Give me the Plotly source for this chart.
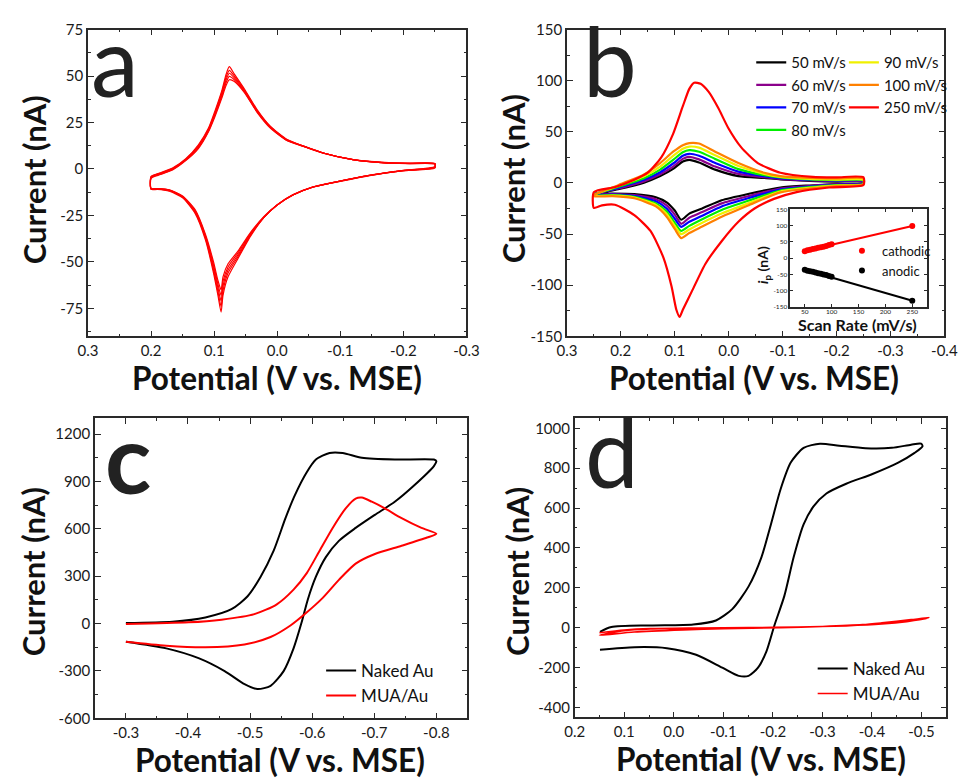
import plotly.graph_objects as go

# ---------------- Panel a : repeated cycles ----------------
a_pot_fwd = [0.2, 0.185, 0.166, 0.145, 0.125, 0.109, 0.099, 0.088, 0.081, 0.076, 0.068,
             0.052, 0.032, 0.011, -0.015, -0.044, -0.073, -0.12, -0.17, -0.21, -0.25]
a_cur_fwd = [
    [-4, -2, 0.5, 5.5, 13, 22, 31, 42, 51, 55, 51, 43, 32, 23, 16, 12, 8.6, 5, 3.5, 3.1, 3],
    [-4.2, -2.2, 0.3, 5.3, 12.5, 21.5, 30, 41, 49.5, 53, 50, 42.5, 31.5, 22.8, 15.8, 12, 8.6, 5, 3.4, 3, 2.9],
    [-4.5, -2.5, 0, 5, 12, 21, 29.5, 40, 48, 51.5, 49, 42, 31, 22.6, 15.6, 12, 8.6, 5, 3.3, 3, 2.8],
    [-4.8, -2.8, -0.2, 4.8, 11.5, 20.5, 28.8, 39, 46.5, 49.8, 48, 41.5, 30.8, 22.3, 15.5, 11.9, 8.5, 5, 3.3, 2.9, 2.7],
    [-5, -3, -0.5, 4.5, 11, 20, 28, 38, 45, 48, 47, 41, 30.5, 22, 15.3, 11.8, 8.5, 5, 3.3, 2.9, 2.6],
]
a_pot_rev = [-0.25, -0.197, -0.144, -0.092, -0.056, -0.025, 0.0, 0.021, 0.042, 0.062, 0.078,
             0.086, 0.089, 0.094, 0.101, 0.114, 0.13, 0.15, 0.171, 0.19, 0.2]
a_cur_rev = [
    [0.5, -1, -3.7, -7.2, -9.8, -14, -19.4, -26, -36, -48, -58, -68, -77, -68, -56, -38, -24, -15.5, -12, -11, -11],
    [0.7, -1, -3.6, -7.1, -9.8, -14, -19.4, -26, -35.5, -47, -56, -65.5, -74, -66, -54.5, -37, -23.5, -15.2, -11.7, -10.8, -10.8],
    [1, -1, -3.6, -7.1, -9.8, -14, -19.4, -26, -35, -46, -54.4, -63, -71, -64, -53, -36.5, -23, -15, -11.5, -10.7, -10.7],
    [1.1, -0.95, -3.55, -7.05, -9.75, -13.9, -19.3, -25.8, -34.5, -45, -52.7, -60.5, -68, -62, -51.5, -35.7, -22.5, -14.8, -11.3, -10.6, -10.6],
    [1.2, -0.9, -3.5, -7, -9.7, -13.8, -19.2, -25.5, -34, -44, -51, -58, -65, -60, -50, -35, -22, -14.5, -11.2, -10.5, -10.5],
]

# ---------------- Panel b : scan-rate series ----------------
b_rates = ["50 mV/s", "60 mV/s", "70 mV/s", "80 mV/s", "90 mV/s", "100 mV/s"]
b_colors = ["#000000", "#8B008B", "#0000FF", "#00EE00", "#F0F000", "#FF8000"]
b_pot_fwd = [0.25, 0.205, 0.157, 0.127, 0.103, 0.085, 0.073, 0.055, 0.025, -0.018, -0.066, -0.096, -0.15, -0.2, -0.25]
b_cur_fwd = [
    [-10.8, -6, 0.3, 6.7, 13.7, 21, 22.6, 20, 13, 6.7, 4.8, 3.5, 2, 1.3, 1],
    [-11, -5.5, 1.5, 8.5, 16, 23.5, 25.5, 23, 16, 8.8, 5.6, 4, 2.5, 1.8, 1.5],
    [-11.2, -4.8, 3, 10.5, 19, 26.5, 28.5, 26.5, 19.5, 11, 6.6, 4.6, 3, 2.3, 2],
    [-11.5, -4, 4.5, 13, 22.5, 30, 32, 30.5, 23.5, 13.5, 7.6, 5.3, 3.5, 2.8, 2.5],
    [-11.8, -3, 6.5, 16, 26.5, 33.5, 35.5, 34.5, 27, 16.5, 8.8, 6, 4, 3.3, 3],
    [-12, -2.2, 8.3, 19.4, 30.5, 36.9, 39, 38.5, 30.5, 19.4, 9.9, 6.7, 5, 4.5, 4.3],
]
b_pot_rev = [-0.25, -0.2, -0.15, -0.096, -0.036, 0.013, 0.049, 0.073, 0.088, 0.1, 0.115, 0.135, 0.175, 0.215, 0.25]
b_cur_rev = [
    [-0.5, -1.2, -2.5, -4.5, -10.8, -17, -25, -30, -36, -27, -19, -14, -11, -10.5, -10.8],
    [-0.7, -1.5, -3, -5.5, -13, -20, -28.5, -34, -40, -31, -22, -16, -12, -11, -11.2],
    [-0.9, -1.8, -3.5, -6.5, -15, -23, -32, -38, -43, -35, -25, -18, -12.8, -11.5, -11.6],
    [-1.1, -2.2, -4.2, -7.5, -17.5, -26.5, -35.5, -42, -47, -39, -28, -20, -13.6, -12, -12.2],
    [-1.3, -2.6, -4.8, -8.4, -20, -30, -39, -45.5, -50, -42, -30.5, -21.5, -14.3, -12.5, -12.6],
    [-1.5, -3, -5.5, -9.2, -22, -33, -42.6, -49, -54, -45, -33, -23, -15, -13, -13],
]
b250_pot_fwd = [0.25, 0.21, 0.175, 0.15, 0.125, 0.103, 0.085, 0.073, 0.064, 0.052, 0.037, 0.019,
                0.001, -0.023, -0.054, -0.096, -0.156, -0.2, -0.25]
b250_cur_fwd = [-9, -4, 3, 10, 25, 48, 75, 92, 98, 97, 89, 73, 54, 35, 19.4, 10, 6, 5.5, 5.5]
b250_pot_rev = [-0.25, -0.186, -0.126, -0.084, -0.048, -0.018, 0.013, 0.043, 0.067, 0.085, 0.091,
                0.097, 0.106, 0.121, 0.145, 0.175, 0.211, 0.235, 0.25]
b250_cur_rev = [-2, -4.5, -9, -15.6, -25, -38, -57, -79, -104.6, -124, -131, -124, -101, -73, -47,
                -31.5, -21.3, -22, -24.5]

# inset: peak current vs scan rate
ins_rates = [50, 55, 60, 65, 70, 75, 80, 85, 90, 95, 100, 250]
ins_cath = [21.5, 24, 25.5, 28, 29.5, 32, 33.5, 35, 37.5, 40, 42.5, 99]
ins_anod = [-36, -38.5, -40, -42, -44, -46.5, -48, -50.5, -52, -55, -57, -131]
fit_rates = [48, 252]
fit_cath = [21, 99.5]
fit_anod = [-35, -131.5]

# ---------------- Panel c ----------------
c_naked_pot = [-0.3, -0.375, -0.428, -0.47, -0.496, -0.517, -0.538, -0.557, -0.572, -0.591, -0.606,
               -0.628, -0.649, -0.68, -0.733, -0.796, -0.8,
               -0.796, -0.764, -0.733, -0.701, -0.67, -0.643, -0.622, -0.606, -0.593, -0.583,
               -0.57, -0.554, -0.533, -0.512, -0.491, -0.459, -0.417, -0.365, -0.3]
c_naked_cur = [4, 12, 39, 91, 173, 297, 462, 668, 812, 957, 1039, 1081, 1081, 1050, 1039, 1039, 1029,
               998, 875, 772, 689, 606, 524, 421, 297, 153, 8,
               -157, -301, -394, -415, -384, -301, -219, -157, -115]
c_mua_pot = [-0.3, -0.401, -0.454, -0.507, -0.543, -0.57, -0.591, -0.612, -0.633, -0.654, -0.67,
             -0.68, -0.696, -0.717, -0.744, -0.776, -0.8,
             -0.785, -0.744, -0.701, -0.67, -0.643, -0.617, -0.591, -0.565, -0.533, -0.491,
             -0.428, -0.365, -0.3]
c_mua_cur = [-2, 8, 25, 60, 122, 215, 318, 462, 606, 730, 792, 798, 772, 730, 668, 606, 569,
             545, 493, 441, 380, 277, 163, 70, -12, -85, -132, -150, -140, -115]

# ---------------- Panel d ----------------
d_naked_pot = [0.149, 0.126, 0.047, -0.039, -0.085, -0.118, -0.151, -0.177, -0.196, -0.216, -0.236,
               -0.262, -0.295, -0.334, -0.387, -0.44, -0.479, -0.499, -0.502,
               -0.486, -0.453, -0.401, -0.348, -0.308, -0.282, -0.262, -0.242, -0.223, -0.203,
               -0.187, -0.17, -0.151, -0.131, -0.098, -0.045, 0.014, 0.079, 0.149]
d_naked_cur = [-21, 3, 11, 16, 36, 93, 207, 354, 518, 698, 828, 902, 923, 913, 900, 902, 918, 923, 910,
               877, 828, 771, 722, 673, 608, 518, 354, 158, 11,
               -119, -201, -242, -242, -201, -136, -103, -98, -111]
d_mua_pot = [0.15, 0.1, 0.047, -0.05, -0.151, -0.25, -0.348, -0.42, -0.47, -0.515,
             -0.479, -0.42, -0.381, -0.3, -0.216, -0.1, -0.019, 0.08, 0.15,
             0.1, 0.047, -0.05, -0.151, -0.25, -0.348, -0.42, -0.47, -0.51]
d_mua_cur = [-26, -12, -5, -2, 0, 3, 10, 20, 32, 50,
             40, 24, 15, 6, 0, -5, -11, -22, -38,
             -15, -7, -3, -0.5, 2.5, 9, 18, 30, 46]

# ---------------- tick values ----------------
a_xticks = [0.3, 0.2, 0.1, 0.0, -0.1, -0.2, -0.3]
a_yticks = [75, 50, 25, 0, -25, -50, -75]
b_xticks = [0.3, 0.2, 0.1, 0.0, -0.1, -0.2, -0.3, -0.4]
b_yticks = [150, 100, 50, 0, -50, -100, -150]
ins_xticks = [50, 100, 150, 200, 250]
ins_yticks = [150, 100, 50, 0, -50, -100, -150]
c_xticks = [-0.3, -0.4, -0.5, -0.6, -0.7, -0.8]
c_yticks = [1200, 900, 600, 300, 0, -300, -600]
d_xticks = [0.2, 0.1, 0.0, -0.1, -0.2, -0.3, -0.4, -0.5]
d_yticks = [1000, 800, 600, 400, 200, 0, -200, -400]

FONT = "Lato"
AX = "#2a2a2a"
fig = go.Figure()

# panel a
for k in range(len(a_cur_fwd)):
    fig.add_trace(go.Scatter(x=a_pot_fwd + a_pot_rev + [a_pot_fwd[0]],
                             y=a_cur_fwd[k] + a_cur_rev[k] + [a_cur_fwd[k][0]],
                             mode="lines", line=dict(color="#FF0000", width=1.2, shape="spline", smoothing=0.6),
                             showlegend=False, xaxis="x", yaxis="y"))

# panel b
for k in range(len(b_rates)):
    fig.add_trace(go.Scatter(x=b_pot_fwd + b_pot_rev + [b_pot_fwd[0]],
                             y=b_cur_fwd[k] + b_cur_rev[k] + [b_cur_fwd[k][0]],
                             mode="lines", name=b_rates[k],
                             line=dict(color=b_colors[k], width=2.2, shape="spline", smoothing=0.6),
                             legend="legend" if k < 4 else "legend5", xaxis="x2", yaxis="y2"))
fig.add_trace(go.Scatter(x=b250_pot_fwd + b250_pot_rev + [b250_pot_fwd[0]],
                         y=b250_cur_fwd + b250_cur_rev + [b250_cur_fwd[0]],
                         mode="lines", name="250 mV/s",
                         line=dict(color="#FF0000", width=2.2, shape="spline", smoothing=0.6),
                         legend="legend5", xaxis="x2", yaxis="y2"))

# inset
fig.add_trace(go.Scatter(x=fit_rates, y=fit_cath, mode="lines", line=dict(color="#FF0000", width=2),
                         showlegend=False, xaxis="x3", yaxis="y3"))
fig.add_trace(go.Scatter(x=fit_rates, y=fit_anod, mode="lines", line=dict(color="#000000", width=2),
                         showlegend=False, xaxis="x3", yaxis="y3"))
fig.add_trace(go.Scatter(x=ins_rates, y=ins_cath, mode="markers", name="cathodic",
                         marker=dict(color="#FF0000", size=6), legend="legend4", xaxis="x3", yaxis="y3"))
fig.add_trace(go.Scatter(x=ins_rates, y=ins_anod, mode="markers", name="anodic",
                         marker=dict(color="#000000", size=6), legend="legend4", xaxis="x3", yaxis="y3"))

# panel c
fig.add_trace(go.Scatter(x=c_naked_pot, y=c_naked_cur, mode="lines", name="Naked Au",
                         line=dict(color="#000000", width=2, shape="spline", smoothing=0.7),
                         legend="legend2", xaxis="x4", yaxis="y4"))
fig.add_trace(go.Scatter(x=c_mua_pot, y=c_mua_cur, mode="lines", name="MUA/Au",
                         line=dict(color="#FF0000", width=2, shape="spline", smoothing=0.7),
                         legend="legend2", xaxis="x4", yaxis="y4"))
# panel d
fig.add_trace(go.Scatter(x=d_naked_pot, y=d_naked_cur, mode="lines", name="Naked Au",
                         line=dict(color="#000000", width=2, shape="spline", smoothing=0.7),
                         legend="legend3", xaxis="x5", yaxis="y5"))
fig.add_trace(go.Scatter(x=d_mua_pot, y=d_mua_cur, mode="lines", name="MUA/Au",
                         line=dict(color="#FF0000", width=1.6, shape="spline", smoothing=0.7),
                         legend="legend3", xaxis="x5", yaxis="y5"))

W, H = 972, 781


def px(x):
    return x / W


def py(y):
    return 1 - y / H


def axis(domain, rng, vals, fmt, minor, anchor, size=15, tl=6, mlen=3, standoff=None):
    labels = [format(v, fmt) for v in vals]
    d = dict(domain=domain, range=rng, tickmode="array", tickvals=vals, ticktext=labels,
             ticks="inside", ticklen=tl, tickwidth=1.3, tickcolor=AX,
             showline=True, linecolor=AX, linewidth=1.5, mirror="allticks",
             showgrid=False, zeroline=False, anchor=anchor,
             tickfont=dict(family=FONT, size=size, color="#1a1a1a"))
    if standoff is not None:
        d["ticklabelstandoff"] = standoff
    if minor:
        d["minor"] = dict(tickmode="linear", tick0=0, dtick=minor, ticks="inside", ticklen=mlen,
                          tickwidth=1.2, tickcolor=AX, showgrid=False)
    return d


fig.update_layout(
    width=W, height=H, margin=dict(l=0, r=0, t=0, b=0),
    paper_bgcolor="white", plot_bgcolor="white",
    xaxis=axis([px(80), px(468)], [0.3, -0.3], a_xticks, ".1f", 0.05, "y"),
    yaxis=axis([py(334), py(20)], [-90, 75], a_yticks, "d", 12.5, "x"),
    xaxis2=axis([px(571), px(958)], [0.3, -0.4], b_xticks, ".1f", 0.05, "y2"),
    yaxis2=axis([py(334), py(20)], [-150, 150], b_yticks, "d", 25, "x2"),
    xaxis3=axis([px(800), px(940)], [23, 277], ins_xticks, "d", None, "y3", size=6.5, tl=3, standoff=-3),
    yaxis3=axis([py(304), py(204)], [-150, 150], ins_yticks, "d", None, "x3", size=6.5, tl=3),
    xaxis4=axis([px(87), px(469)], [-0.25, -0.85], c_xticks, ".1f", 0.05, "y4"),
    yaxis4=axis([py(725), py(418)], [-600, 1300], c_yticks, "d", 150, "x4"),
    xaxis5=axis([px(579), px(960)], [0.2, -0.55], d_xticks, ".1f", 0.05, "y5"),
    yaxis5=axis([py(724), py(418)], [-450, 1050], d_yticks, "d", 100, "x5"),
    legend=dict(x=px(760), y=py(37), xanchor="left", yanchor="top", bgcolor="rgba(0,0,0,0)",
                font=dict(family=FONT, size=15, color="#111"), itemwidth=30, tracegroupgap=0),
    legend5=dict(x=px(855), y=py(37), xanchor="left", yanchor="top", bgcolor="rgba(0,0,0,0)",
                 font=dict(family=FONT, size=15, color="#111"), itemwidth=30, tracegroupgap=0),
    legend2=dict(x=px(319), y=py(658), xanchor="left", yanchor="top", bgcolor="rgba(0,0,0,0)",
                 font=dict(family=FONT, size=17, color="#111"), itemwidth=30),
    legend3=dict(x=px(823), y=py(656), xanchor="left", yanchor="top", bgcolor="rgba(0,0,0,0)",
                 font=dict(family=FONT, size=17, color="#111"), itemwidth=30),
    legend4=dict(x=px(853), y=py(231), xanchor="left", yanchor="top", bgcolor="rgba(0,0,0,0)",
                 font=dict(family=FONT, size=13, color="#111"), itemwidth=30),
)

ann = []


def text(x, y, s, size, bold=True, angle=0, color="#111"):
    ann.append(dict(x=px(x), y=py(y), xref="paper", yref="paper", text=s, showarrow=False,
                    textangle=angle, xanchor="center", yanchor="middle",
                    font=dict(family=FONT, size=size, color=color, weight=700 if bold else 400)))


for (x, y) in [(274, 377), (763, 377), (277, 768), (770, 767)]:
    text(x, y, "Potential (V vs. MSE)", 31.5)
for (x, y) in [(25, 174), (516, 173), (23, 575), (520, 575)]:
    text(x, y, "Current (nA)", 31, angle=-90)
text(869, 322, "Scan Rate (mV/s)", 16)
text(773, 261, "<i>i</i><sub>p</sub> (nA)", 14, angle=-90)
text(108, 51, "a", 96, bold=False, color="#222")
text(615, 51, "b", 96, bold=False, color="#222")
text(121, 457, "c", 96, bold=True, color="#222")
text(617, 451, "d", 96, bold=False, color="#222")
fig.update_layout(annotations=ann)

fig.write_html("out.html")
